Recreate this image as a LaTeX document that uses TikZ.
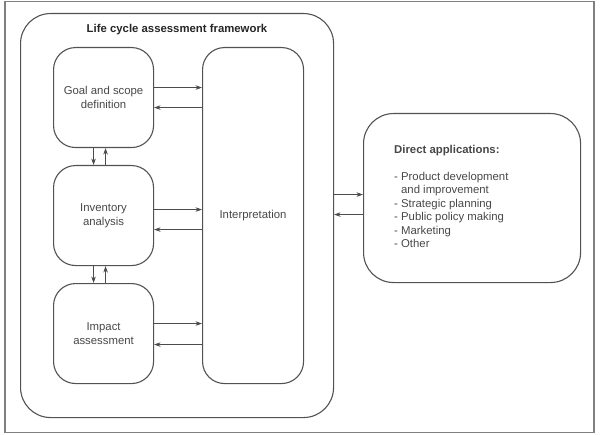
\documentclass[tikz,border=0pt]{standalone}
\usepackage{fontspec}
\setmainfont{Liberation Sans}
\usepackage{tikz}
\usetikzlibrary{calc,positioning,arrows.meta}

\begin{document}
\begin{tikzpicture}[>={Stealth[length=6.5bp,width=4.5bp]},x=1bp,y=-1bp,
    every node/.style={font=\fontsize{11.4}{13.5}\selectfont, text=black!72},
    roundbox/.style={draw=black!68, line width=1.1bp, anchor=north west, inner sep=0},
    flow/.style={->, draw=black!70, line width=0.6bp}]

%the page
    \useasboundingbox (0,0) rectangle (601,435);
    \draw[black!50, line width=1.2bp] (5,1.5) rectangle (594,432.5);

%the framework
    \node[roundbox, rounded corners=30bp, minimum width=313bp, minimum height=404bp] (frame) at (20,13) {};
    \node[font=\fontsize{11.4}{13.5}\selectfont\bfseries, text=black!85] (fwtitle) at (177,30) {Life cycle assessment framework};

    \node[roundbox, rounded corners=22bp, minimum width=100bp, minimum height=100bp, align=center] (goal) at (53,47) {Goal and scope\\definition};
    \node[roundbox, rounded corners=22bp, minimum width=100bp, minimum height=100bp, align=center] (inv) at (53,165) {Inventory\\analysis};
    \node[roundbox, rounded corners=22bp, minimum width=100bp, minimum height=100bp, align=center] (impact) at (53,283) {Impact\\assessment};
    \node[roundbox, rounded corners=22bp, minimum width=101bp, minimum height=336bp] (interp) at (202,47) {Interpretation};

%the applications
    \node[roundbox, rounded corners=30bp, minimum width=217bp, minimum height=169bp] (direct) at (363,113) {};
    \node[anchor=north west, inner sep=0, align=left] (applist) at (394,145)
        {\textbf{Direct applications:}\\[13.5bp]
         - Product development\\
         \phantom{- }and improvement\\
         - Strategic planning\\
         - Public policy making\\
         - Marketing\\
         - Other};

%the arrows
    \draw[flow] ([yshift=10bp]goal.east) -- ([yshift=10bp]goal.east -| interp.west);
    \draw[flow] ([yshift=-10bp]goal.east -| interp.west) -- ([yshift=-10bp]goal.east);
    \draw[flow] ([yshift=6bp]inv.east) -- ([yshift=6bp]inv.east -| interp.west);
    \draw[flow] ([yshift=-14bp]inv.east -| interp.west) -- ([yshift=-14bp]inv.east);
    \draw[flow] ([yshift=10bp]impact.east) -- ([yshift=10bp]impact.east -| interp.west);
    \draw[flow] ([yshift=-11bp]impact.east -| interp.west) -- ([yshift=-11bp]impact.east);

    \draw[flow] ([xshift=-10bp]goal.south) -- ([xshift=-10bp]goal.south |- inv.north);
    \draw[flow] ([xshift=2bp]inv.north) -- ([xshift=2bp]inv.north |- goal.south);
    \draw[flow] ([xshift=-10bp]inv.south) -- ([xshift=-10bp]inv.south |- impact.north);
    \draw[flow] ([xshift=2bp]impact.north) -- ([xshift=2bp]impact.north |- inv.south);

    \draw[flow] ([yshift=21bp]frame.east) -- ([yshift=21bp]frame.east -| direct.west);
    \draw[flow] ([yshift=1bp]frame.east -| direct.west) -- ([yshift=1bp]frame.east);
\end{tikzpicture}
\end{document}
